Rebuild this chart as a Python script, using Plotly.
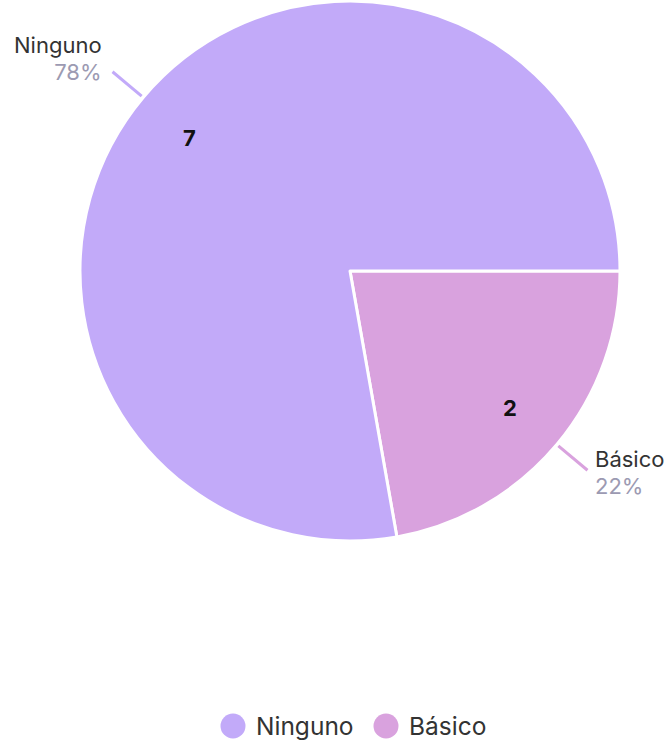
import math
import plotly.graph_objects as go

# Data
labels = ["Básico", "Ninguno"]
values = [2, 7]
colors = ["#D9A2DE", "#C2AAF9"]
legend_order = ["Ninguno", "Básico"]

W, H = 665, 742
FONT = "Inter, 'Open Sans', sans-serif"
NAME_COLOR = "#333333"
PCT_COLOR = "#9C9AB2"

# Pie geometry (pixels)
cx, cy, R = 350, 271, 270
dom_x = [(cx - R) / W, (cx + R) / W]
dom_y = [1 - (cy + R) / H, 1 - (cy - R) / H]

fig = go.Figure()
fig.add_trace(go.Pie(
    labels=labels, values=values, sort=False, direction="clockwise", rotation=90,
    marker=dict(colors=colors, line=dict(color="white", width=3)),
    textinfo="none", hoverinfo="label+value+percent", showlegend=False,
    domain=dict(x=dom_x, y=dom_y),
))

def to_paper(px, py):
    return px / W, 1 - py / H

total = sum(values)
start = 90.0  # degrees clockwise from 12 o'clock
annotations, shapes = [], []
for lab, val, col in zip(labels, values, colors):
    sweep = 360.0 * val / total
    mid = math.radians(start + sweep / 2)
    start += sweep
    sx, sy = math.sin(mid), -math.cos(mid)
    pct = round(100 * val / total)

    # value label inside the slice
    x, y = to_paper(cx + 0.775 * R * sx, cy + 0.775 * R * sy + 2)
    annotations.append(dict(x=x, y=y, xref="paper", yref="paper", text=f"<b>{val}</b>",
                            xanchor="center", yanchor="middle", showarrow=False,
                            font=dict(family=FONT, size=22, color="#111")))

    # leader line
    x0, y0 = to_paper(cx + (R + 2) * sx, cy + (R + 2) * sy)
    x1, y1 = to_paper(cx + (R + 40) * sx, cy + (R + 40) * sy)
    shapes.append(dict(type="line", xref="paper", yref="paper", x0=x0, y0=y0, x1=x1, y1=y1,
                       line=dict(color=col, width=3)))

    # outside label: name over percentage
    ex, ey = cx + (R + 40) * sx, cy + (R + 40) * sy
    if sx > 0:
        bx, by, anchor = ex + 6, ey + 2, "left"
    else:
        bx, by, anchor = ex - 9, ey - 13, "right"
    px_, py_ = to_paper(bx, by)
    text = (f"<span style='font-size:22px'>{lab}</span><br>"
            f"<span style='font-size:22px;color:{PCT_COLOR}'>{pct}%</span>")
    annotations.append(dict(x=px_, y=py_, xref="paper", yref="paper", text=text, showarrow=False,
                            xanchor=anchor, yanchor="middle", align=anchor,
                            font=dict(family=FONT, size=21, color=NAME_COLOR)))

# Legend: round swatches followed by the category names
legend_y = 726
legend_dot = 25
legend_x = [233, 386]
for name, lx in zip(legend_order, legend_x):
    col = colors[labels.index(name)]
    x0, y0 = to_paper(lx - legend_dot / 2, legend_y + legend_dot / 2)
    x1, y1 = to_paper(lx + legend_dot / 2, legend_y - legend_dot / 2)
    shapes.append(dict(type="circle", xref="paper", yref="paper", x0=x0, y0=y0, x1=x1, y1=y1,
                       fillcolor=col, line=dict(width=0)))
    tx, ty = to_paper(lx + 21, legend_y)
    annotations.append(dict(x=tx, y=ty, xref="paper", yref="paper", text=name, showarrow=False,
                            xanchor="left", yanchor="middle",
                            font=dict(family=FONT, size=24.5, color=NAME_COLOR)))

fig.update_layout(
    width=W, height=H, margin=dict(l=0, r=0, t=0, b=0),
    paper_bgcolor="white", plot_bgcolor="white",
    showlegend=False,
    annotations=annotations, shapes=shapes,
)

fig.write_html("out.html")
